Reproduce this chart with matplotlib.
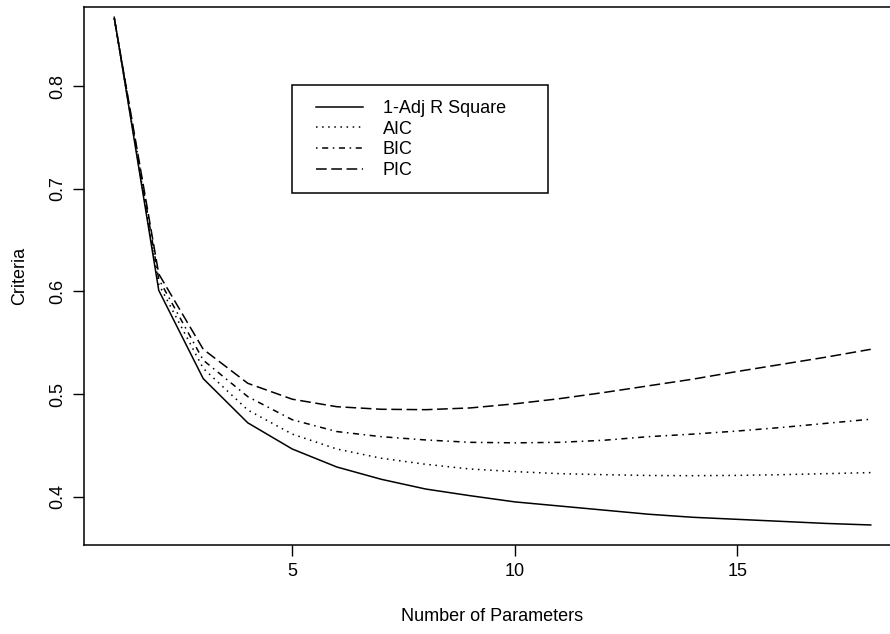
import numpy as np
import matplotlib.pyplot as plt
from matplotlib.patches import Rectangle

# values
n_params = list(range(1, 19))
adj_r2 = [0.867, 0.601, 0.515, 0.472, 0.4465, 0.429, 0.417, 0.4075, 0.401,
          0.395, 0.391, 0.387, 0.383, 0.380, 0.378, 0.376, 0.374, 0.3725]
aic = [0.866, 0.607, 0.525, 0.4845, 0.461, 0.4465, 0.4375, 0.4316, 0.427,
       0.4245, 0.4225, 0.4215, 0.4207, 0.4205, 0.4208, 0.4215, 0.4225, 0.4235]
bic = [0.866, 0.612, 0.533, 0.4975, 0.475, 0.4635, 0.4585, 0.4553, 0.453,
       0.4525, 0.453, 0.455, 0.4585, 0.461, 0.464, 0.4675, 0.4715, 0.4755]
pic = [0.866, 0.617, 0.5436, 0.5105, 0.495, 0.4877, 0.4852, 0.4848, 0.4865,
       0.4905, 0.4955, 0.5015, 0.508, 0.5145, 0.522, 0.529, 0.536, 0.5436]
labels = ["1-Adj R Square", "AIC", "BIC", "PIC"]

plt.rcParams['font.family'] = ['Liberation Sans', 'DejaVu Sans']
plt.rcParams['font.size'] = 13

W, H = 890, 634
fig = plt.figure(figsize=(W / 100, H / 100), dpi=100)
# axes box in pixels: left 84, right ~901 (cut off), top 7, bottom 545
ax = fig.add_axes([84 / W, 1 - 545 / H, 817 / W, (545 - 7) / H])

lw = 1.1
ax.plot(n_params, adj_r2, color='black', lw=lw, ls='-', label=labels[0])
ax.plot(n_params, aic, color='black', lw=lw, ls=(0, (1, 3)), label=labels[1])
ax.plot(n_params, bic, color='black', lw=lw, ls=(0, (1, 3, 4, 3)), label=labels[2])
ax.plot(n_params, pic, color='black', lw=lw, ls=(0, (7, 3)), label=labels[3])

ax.set_xlim(0.32, 18.68)
ax.set_ylim(0.353, 0.877)
ax.set_xticks([5, 10, 15])
ax.set_yticks([0.4, 0.5, 0.6, 0.7, 0.8])
ax.set_yticklabels(["0.4", "0.5", "0.6", "0.7", "0.8"], rotation=90, va='center')
ax.tick_params(direction='out', length=8, width=1, pad=5, colors='black')
for s in ax.spines.values():
    s.set_linewidth(1.1)

ax.set_xlabel("Number of Parameters", labelpad=20)
ax.set_ylabel("Criteria", labelpad=15)

# legend box drawn by hand, R style
fig.add_artist(Rectangle((292 / W, 1 - 193 / H), (548 - 292) / W, (193 - 85) / H,
                         transform=fig.transFigure, fill=False,
                         edgecolor='black', lw=1.1))
leg = ax.legend(loc='upper left', bbox_to_anchor=(316 / W, 1 - 100 / H),
                bbox_transform=fig.transFigure, frameon=False,
                handlelength=2.6, handletextpad=1.1,
                labelspacing=0.2, borderpad=0, borderaxespad=0)

fig.savefig("out.png", dpi=100)
